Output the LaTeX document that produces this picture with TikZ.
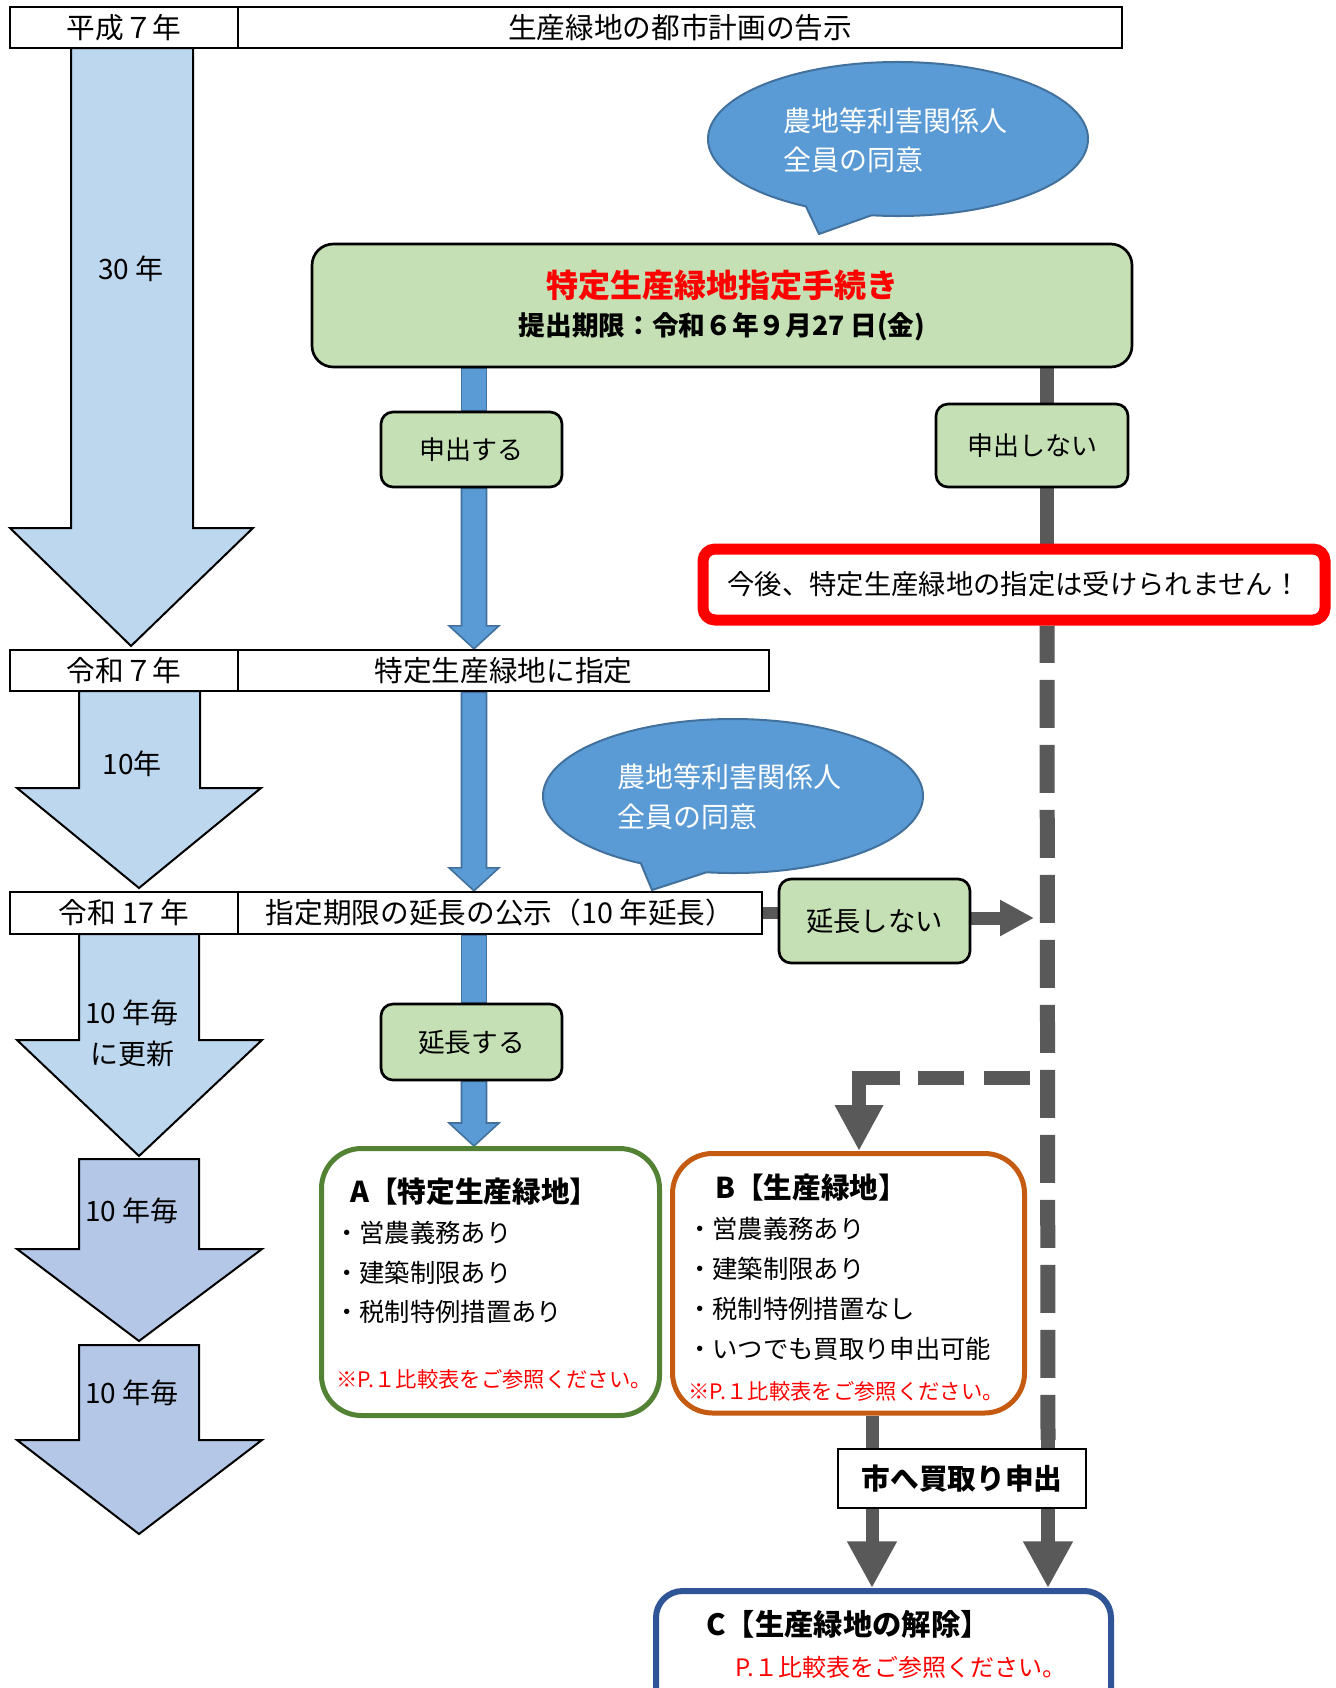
\documentclass[tikz,border=0pt]{standalone}
\usepackage{fontspec}
\setmainfont{Noto Sans CJK JP}
\usetikzlibrary{fit,arrows.meta,backgrounds,calc}
\definecolor{lblue}{HTML}{BDD7EE}
\definecolor{lbluetwo}{HTML}{B4C7E7}
\definecolor{gfill}{HTML}{C5E0B4}
\definecolor{bfill}{HTML}{5B9BD5}
\definecolor{bline}{HTML}{41719C}
\definecolor{dgray}{HTML}{595959}
\definecolor{agreen}{HTML}{548235}
\definecolor{borange}{HTML}{C55A11}
\definecolor{cblue}{HTML}{2F5597}
\newcommand\BlueDown[2]{\draw[barrow] let \p1=#1, \p2=#2 in (\x1-9.4pt,\y1) -- (\x1-9.4pt,\y2+17.25pt) -- (\x1-18.75pt,\y2+17.25pt) -- (\x1,\y2) -- (\x1+18.75pt,\y2+17.25pt) -- (\x1+9.4pt,\y2+17.25pt) -- (\x1+9.4pt,\y1) -- cycle;}
\newcommand\BlueShaft[2]{\draw[barrow] let \p1=#1, \p2=#2 in (\x1-9.4pt,\y1) rectangle (\x1+9.4pt,\y2);}
\begin{document}
\begin{tikzpicture}[x=0.75pt, y=-0.75pt,
  rowcell/.style={draw=black, line width=1.8pt, fill=white, inner sep=0pt},
  rowtext/.style={inner sep=0pt, font=\fontsize{21.5pt}{26pt}\selectfont},
  gbox/.style={draw=black, line width=2pt, fill=gfill, inner sep=0pt, rounded corners=9pt},
  bigarr/.style={draw=black, line width=1.5pt, line join=miter},
  barrow/.style={fill=bfill, draw=bline, line width=1.2pt},
  gline/.style={draw=dgray, line width=11pt},
  gdash/.style={draw=dgray, line width=11.25pt, dash pattern=on 36pt off 12.75pt, dash phase=8pt},
  bubble/.style={fill=bfill, draw=bline, line width=1.5pt},
  btext/.style={text=white, anchor=west, inner sep=0pt, font=\fontsize{21pt}{25pt}\selectfont},
  listline/.style={anchor=west, inner sep=0pt, font=\fontsize{19pt}{23pt}\selectfont},
  notetext/.style={anchor=west, inner sep=0pt, text=red, font=\fontsize{16pt}{19pt}\selectfont},
  ttl/.style={anchor=west, inner sep=0pt, font=\bfseries\fontsize{21.5pt}{26pt}\selectfont},
  atext/.style={font=\fontsize{21pt}{25pt}\selectfont},
]
\useasboundingbox (0,0) rectangle (1335,1688);
\begin{scope}[on background layer]
\fill[white] (0,0) rectangle (1335,1688);
\end{scope}
\coordinate (bx) at (474,0);
\coordinate (gx) at (1047,0);
\coordinate (lx) at (872,0);

% big timeline arrows
\draw[bigarr, fill=lblue] (71,48) -- (71,528) -- (10,528) -- (131,646) -- (253,528) -- (193,528) -- (193,48) -- cycle;
\draw[bigarr, fill=lblue] (79,691) -- (79,788) -- (17,788) -- (139,888) -- (261,788) -- (200,788) -- (200,691) -- cycle;
\draw[bigarr, fill=lblue] (79,934) -- (79,1040) -- (17,1040) -- (139,1156) -- (262,1040) -- (199,1040) -- (199,934) -- cycle;
\draw[bigarr, fill=lbluetwo] (79,1159) -- (79,1249) -- (17,1249) -- (139,1341) -- (262,1249) -- (199,1249) -- (199,1159) -- cycle;
\draw[bigarr, fill=lbluetwo] (79,1345) -- (79,1440) -- (17,1440) -- (139,1534) -- (262,1440) -- (199,1440) -- (199,1345) -- cycle;
\node[atext] (t30) at (131,269) {30 年};
\node[atext] (t10) at (132,764) {10年};
\node[atext] (t10u) at (132,1013) {10 年毎};
\node[atext] (t10v) at (132,1054) {に更新};
\node[atext] (t10b) at (132,1211) {10 年毎};
\node[atext] (t10c) at (132,1393) {10 年毎};

% rows
\node[rowcell, fit={(10,7)(238,48)}] (y1) {};
\node[rowtext] (y1t) at (y1.center) {平成７年};
\node[rowcell, fit={(238,7)(1122,48)}] (e1) {};
\node[rowtext] (e1t) at (e1.center) {生産緑地の都市計画の告示};
\node[rowcell, fit={(10,650)(238,691)}] (y2) {};
\node[rowtext] (y2t) at (y2.center) {令和７年};
\node[rowcell, fit={(238,650)(769,691)}] (e2) {};
\node[rowtext] (e2t) at (e2.center) {特定生産緑地に指定};
\node[rowcell, fit={(10,892)(238,934)}] (y3) {};
\node[rowtext] (y3t) at (y3.center) {令和 17 年};
\node[rowcell, fit={(238,892)(762,934)}] (e3) {};
\node[rowtext] (e3t) at (e3.center) {指定期限の延長の公示（10 年延長）};

% main procedure box
\node[gbox, rounded corners=16pt, fit={(312,244)(1132,367)}] (main) {};
\node[text=red, font=\bfseries\fontsize{24pt}{28pt}\selectfont] (mt) at (722,285) {特定生産緑地指定手続き};
\node[font=\bfseries\fontsize{20pt}{24pt}\selectfont] (md) at (722,327) {提出期限：令和６年９月27 日(金)};

\node[gbox, fit={(381,412)(562,487)}] (s1) {};
\node[font=\fontsize{19.5pt}{23pt}\selectfont] (s1t) at (s1.center) {申出する};
\node[gbox, fit={(936,404)(1128,487)}] (n1) {};
\node[font=\fontsize{19.5pt}{23pt}\selectfont] (n1t) at (n1.center) {申出しない};
\node[draw=red, line width=8.25pt, rounded corners=9pt, fill=white, inner sep=0pt, fit={(703,549)(1325,620)}] (warn) {};
\node[font=\fontsize{20.5pt}{24pt}\selectfont] (warnt) at (warn.center) {今後、特定生産緑地の指定は受けられません！};
\node[gbox, fit={(779,879)(970,963)}] (enn) {};
\node[font=\fontsize{20.5pt}{24pt}\selectfont] (ennt) at (enn.center) {延長しない};
\node[gbox, fit={(381,1004)(562,1080)}] (s2) {};
\node[font=\fontsize{20pt}{24pt}\selectfont] (s2t) at (s2.center) {延長する};

% result boxes
\node[draw=agreen, line width=3.75pt, rounded corners=30pt, fill=white, inner sep=0pt, fit={(321.5,1148.5)(659.5,1415.5)}] (A) {};
\node[draw=borange, line width=3.75pt, rounded corners=30pt, fill=white, inner sep=0pt, fit={(672.5,1153.5)(1024.5,1413)}] (B) {};
\node[draw=black, line width=2pt, fill=white, inner sep=0pt, fit={(838,1449)(1086,1508)}] (buy) {};
\node[font=\bfseries\fontsize{21.5pt}{26pt}\selectfont] (buyt) at (buy.center) {市へ買取り申出};
\node[draw=cblue, line width=4.5pt, rounded corners=20pt, fill=white, inner sep=0pt, fit={(656,1591)(1111,1740)}] (C) {};

\node[ttl] (a0) at (350,1192) {A【特定生産緑地】};
\node[listline] (a1) at (334,1233) {・営農義務あり};
\node[listline] (a2) at (334,1273) {・建築制限あり};
\node[listline] (a3) at (334,1312) {・税制特例措置あり};
\node[notetext] (a4) at (336,1379) {※P.１比較表をご参照ください。};

\node[ttl] (b0) at (715,1188) {B【生産緑地】};
\node[listline] (b1) at (687,1229) {・営農義務あり};
\node[listline] (b2) at (687,1269) {・建築制限あり};
\node[listline] (b3) at (687,1309) {・税制特例措置なし};
\node[listline] (b4) at (687,1349) {・いつでも買取り申出可能};
\node[notetext] (b5) at (688,1391) {※P.１比較表をご参照ください。};

\node[ttl, font=\bfseries\fontsize{22pt}{26pt}\selectfont] (c0) at (706,1624) {C【生産緑地の解除】};
\node[notetext, font=\fontsize{18pt}{22pt}\selectfont] (c1) at (735,1667) {P.１比較表をご参照ください。};

% speech bubbles
\path[bubble] (898,139) ++(98:190 and 77) arc[start angle=98, end angle=-241, x radius=190, y radius=77] -- (819,234) -- cycle;
\node[btext] (q1a) at (783,121) {農地等利害関係人};
\node[btext] (q1b) at (783,160) {全員の同意};
\path[bubble] (733,796) ++(98:190 and 77) arc[start angle=98, end angle=-241, x radius=190, y radius=77] -- (652,890) -- cycle;
\node[btext] (q2a) at (617,777) {農地等利害関係人};
\node[btext] (q2b) at (617,817) {全員の同意};

% connectors
\begin{scope}[on background layer]
\BlueShaft{(main.south -| bx)}{(s1.north -| bx)}
\BlueDown{(s1.south -| bx)}{(e2.north -| bx)}
\BlueDown{(e2.south -| bx)}{(e3.north -| bx)}
\BlueShaft{(e3.south -| bx)}{(s2.north -| bx)}
\BlueDown{(s2.south -| bx)}{(A.north -| bx)}

\draw[gline] (main.south -| gx) -- (n1.north -| gx);
\draw[gline] (n1.south -| gx) -- (warn.north -| gx);
\coordinate (gend) at (1048,1440);
\draw[gdash] (warn.south -| gx) -- (gend);
\draw[draw=dgray, line width=10.5pt, -{Triangle[width=35pt,length=35pt]}] (gend) -- (C.north -| gend);

\coordinate (elb) at (1030,1078);
\coordinate (ebreak) at (900,1078);
\coordinate (bent) at ($(B.north)+(10.5,0)$);
\draw[draw=dgray, line width=11pt, dash pattern=on 34.5pt off 15pt] (elb) -- (ebreak);
\draw[draw=dgray, line width=11pt, line join=miter, -{Triangle[width=34pt,length=34.5pt]}] (ebreak) -- (bent |- elb) -- (bent);

\draw[draw=dgray, line width=9pt] (e3.east) -- (enn.west |- e3.east);
\coordinate (etip) at (1034,918);
\draw[draw=dgray, line width=9.75pt, -{Triangle[width=25.5pt,length=25.5pt]}] (enn.east |- etip) -- (etip);

\draw[draw=dgray, line width=9.75pt, -{Triangle[width=35pt,length=35pt]}] (B.south -| lx) -- (C.north -| lx);
\end{scope}
\end{tikzpicture}
\end{document}
